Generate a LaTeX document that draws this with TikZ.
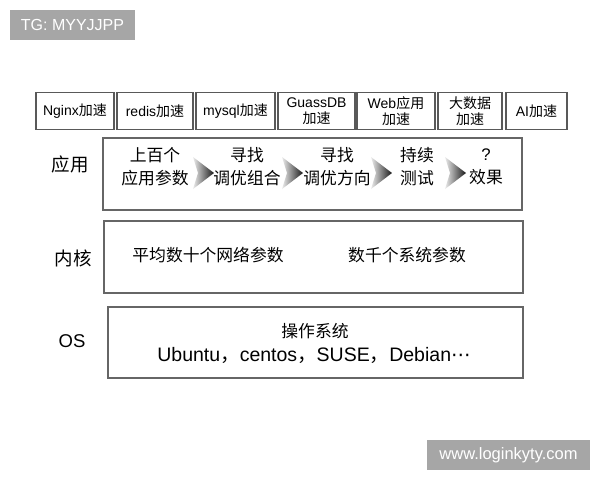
\documentclass[tikz,border=0pt]{standalone}
\usepackage{fontspec}
\setmainfont{Liberation Sans}
\newfontfamily\cjk{Noto Sans CJK SC}
\newfontfamily\symb{DejaVu Sans}
\usetikzlibrary{positioning}

\tikzset{
  accbox/.style={draw=black!65, line width=1.6pt, minimum height=37pt, inner sep=0pt,
    align=center, font=\fontsize{14}{15.5}\selectfont},
  layerbox/.style={draw=black!60, line width=1.6pt, fill=white},
  layername/.style={font=\cjk\fontsize{18.5}{20}\selectfont},
  steptext/.style={align=center, inner sep=0pt, font=\cjk\fontsize{16.8}{23}\selectfont},
  marktag/.style={fill=black!35, text=white, inner sep=0pt},
  chevron/.pic={\shade[left color=black!8, right color=black!90]
    (0,-16) -- (21,0) -- (0,16) -- (5,0) -- cycle;}
}

\begin{document}
\begin{tikzpicture}[x=1pt,y=-1pt]
  \useasboundingbox[fill=white] (0,0) rectangle (600,480);
  % watermarks
  \node[marktag, minimum width=125pt, minimum height=30pt, font=\fontsize{16}{18}\selectfont] (tg) at (72.5,25) {TG: MYYJJPP};
  \node[marktag, minimum width=163pt, minimum height=30pt, font=\fontsize{16.5}{18}\selectfont] (www) at (508.5,455) {www.loginkyty.com};
  % acceleration row
  \node[accbox, minimum width=78pt] (nginx) at (75,111) {Nginx{\cjk 加速}};
  \node[accbox, minimum width=76pt] (redis) at (155,111) {redis{\cjk 加速}};
  \node[accbox, minimum width=79pt] (mysql) at (235.5,111) {mysql{\cjk 加速}};
  \node[accbox, minimum width=77pt] (gauss) at (316.5,111) {GuassDB\\{\cjk 加速}};
  \node[accbox, minimum width=78pt] (web) at (396,111) {Web{\cjk 应用}\\{\cjk 加速}};
  \node[accbox, minimum width=64pt] (bigdata) at (470,111) {{\cjk 大数据}\\{\cjk 加速}};
  \node[accbox, minimum width=61pt] (ai) at (536.5,111) {AI{\cjk 加速}};
  % layers
  \draw[layerbox] (103,138) rectangle (522,210);
  \draw[layerbox] (104,221) rectangle (523,293);
  \draw[layerbox] (108,307) rectangle (523,378);
  \node[layername] (app) at (70,164) {应用};
  \node[layername] (kernel) at (73,258) {内核};
  \node[layername, font=\fontsize{18.5}{20}\selectfont] (os) at (72,341) {OS};
  % application steps
  \node[steptext] (s1) at (155,167) {上百个\\应用参数};
  \node[steptext] (s2) at (247,167) {寻找\\调优组合};
  \node[steptext] (s3) at (337,167) {寻找\\调优方向};
  \node[steptext] (s4) at (417,167) {持续\\测试};
  \node[steptext] (s5) at (486,167) {{\fontspec{Liberation Sans}?}\\效果};
  \pic at (193,173) {chevron};
  \pic at (282,173) {chevron};
  \pic at (371,173) {chevron};
  \pic at (445,173) {chevron};
  % kernel
  \node[steptext] (net) at (208,255) {平均数十个网络参数};
  \node[steptext] (sys) at (407,255) {数千个系统参数};
  % os
  \node[steptext] (osname) at (315,331) {操作系统};
  \node[inner sep=0pt, font=\fontsize{19.5}{22}\selectfont] (distros) at (314,355)
    {Ubuntu{\cjk ，}centos{\cjk ，}SUSE{\cjk ，}Debian{\symb ⋯}};
\end{tikzpicture}
\end{document}
